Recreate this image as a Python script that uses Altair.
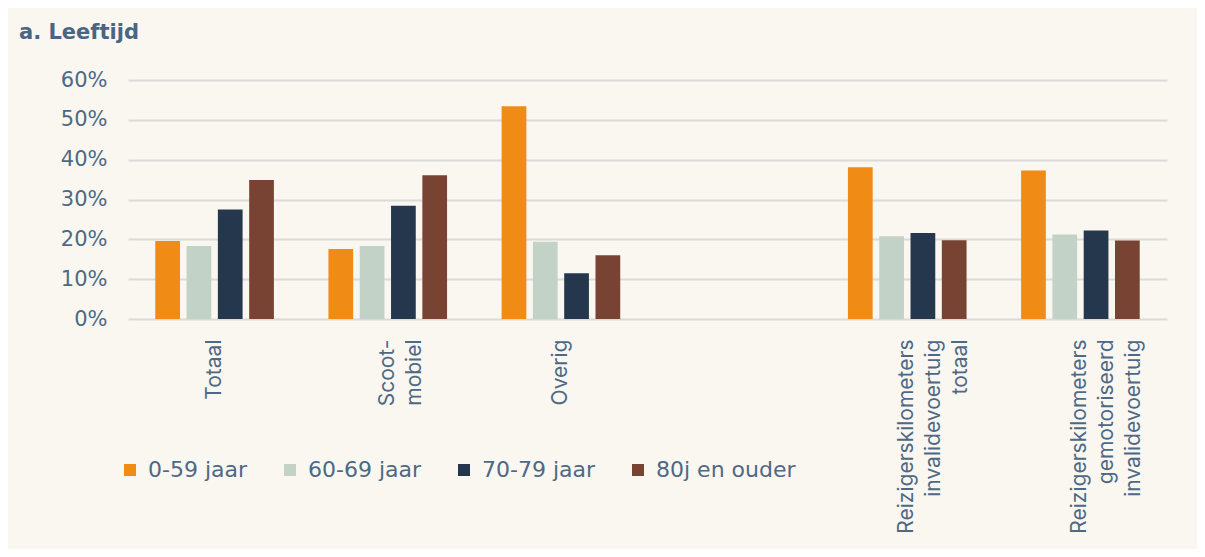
import altair as alt
import pandas as pd

categories = ["Totaal", "Scoot-|mobiel", "Overig", "_",
              "Reizigerskilometers|invalidevoertuig|totaal",
              "Reizigerskilometers|gemotoriseerd|invalidevoertuig"]
groups = ["0-59 jaar", "60-69 jaar", "70-79 jaar", "80j en ouder"]
colors = ["#F08C16", "#C3D2C7", "#24374C", "#784333"]

v_0_59 = [0.196, 0.176, 0.534, 0.381, 0.373]
v_60_69 = [0.183, 0.183, 0.194, 0.208, 0.212]
v_70_79 = [0.275, 0.284, 0.115, 0.216, 0.222]
v_80 = [0.349, 0.361, 0.160, 0.198, 0.197]

data_cats = [c for c in categories if c != "_"]
rows = []
for i, c in enumerate(data_cats):
    for g, vals in zip(groups, [v_0_59, v_60_69, v_70_79, v_80]):
        rows.append({"cat": c, "group": g, "value": vals[i]})
df = pd.DataFrame(rows)

text_color = "#4D6986"

chart = alt.Chart(df).mark_bar().encode(
    x=alt.X("cat:N", sort=categories,
            scale=alt.Scale(domain=categories, paddingInner=0.315, paddingOuter=0.1575),
            axis=alt.Axis(title=None, labelAngle=270, labelAlign="right", labelBaseline="middle",
                          labelExpr="datum.label == '_' ? '' : split(datum.label, '|')",
                          labelFont="Inter", labelFontSize=21, labelLineHeight=27,
                          labelLimit=400, labelColor=text_color, labelPadding=20,
                          domain=False, ticks=False, grid=False)),
    xOffset=alt.XOffset("group:N", sort=groups, scale=alt.Scale(paddingInner=0.21, paddingOuter=0)),
    y=alt.Y("value:Q", scale=alt.Scale(domain=[0, 0.6], nice=False),
            axis=alt.Axis(title=None, format=".0%", values=[0, 0.1, 0.2, 0.3, 0.4, 0.5, 0.6],
                          labelFont="DejaVu Sans", labelFontSize=21, labelColor=text_color,
                          labelPadding=21, domain=False, ticks=False, grid=True,
                          gridColor="#DADADA", gridWidth=2)),
    color=alt.Color("group:N", sort=groups, scale=alt.Scale(domain=groups, range=colors),
                    legend=alt.Legend(title=None, orient="none", legendX=-9, legendY=379,
                                      direction="horizontal", symbolType="square",
                                      symbolSize=144, symbolStrokeWidth=0, labelOffset=7,
                                      columnPadding=31, labelFont="DejaVu Sans",
                                      labelFontSize=22, labelColor=text_color, padding=0)),
).properties(
    width=1039, height=239,
    title=alt.TitleParams("a. Leeftijd", anchor="start", frame="group", dx=-109,
                          offset=9, baseline="alphabetic", font="DejaVu Sans",
                          fontSize=21, fontWeight="bold", color="#4A6584"),
    autosize=alt.AutoSizeParams(type="none"),
    padding={"left": 120, "top": 72, "right": 30, "bottom": 230},
    background="#FAF7F0",
).configure_view(stroke=None)

chart.save("out.html", embed_options={"renderer": "svg", "actions": False})
